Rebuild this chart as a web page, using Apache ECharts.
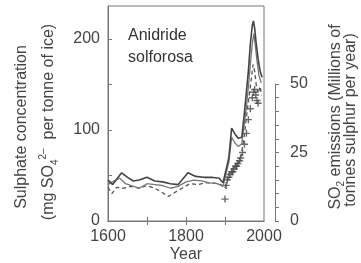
<!DOCTYPE html>
<html>
<head>
<meta charset="utf-8">
<script src="https://cdn.jsdelivr.net/npm/echarts@6/dist/echarts.min.js"></script>
<style>
  html, body { margin: 0; padding: 0; background: #fff; }
  #chart { width: 361px; height: 263px; }
</style>
</head>
<body>
<div id="chart"></div>
<script>
// sulphate in ice cores (3 records) + SO2 emissions (crosses)
const yearsA = [1600,1612,1635,1650,1665,1680,1700,1720,1740,1760,1780,1805,1825,1845,1865,1885,1895,1900,1910,1917,1925,1934,1943,1950,1956,1960,1965,1970,1973,1976,1980,1985,1990,1995];
const sulphateA = [45,40,53,48,44,45,48,44,43,41,40,53,49,48,48,47,42,44,70,102,96,91,92,120,147,165,195,215,220,212,195,178,165,158];

const yearsB = [1600,1615,1630,1645,1660,1680,1700,1720,1740,1760,1780,1800,1820,1840,1860,1880,1895,1900,1910,1917,1925,1934,1943,1950,1956,1960,1965,1970,1974,1978,1982,1987,1993];
const sulphateB = [40,44,47,41,39,36,41,40,39,36,38,43,45,44,42,41,38,40,65,92,86,82,85,108,130,148,172,195,206,192,176,160,152];

const yearsC = [1600,1610,1622,1640,1660,1680,1700,1720,1740,1755,1770,1790,1810,1830,1850,1870,1890,1900,1910,1920,1930,1940,1950,1957,1962,1968,1972,1976,1980,1985,1990,1994];
const sulphateC = [37,30,37,36,38,36,39,36,31,27,31,36,41,40,42,42,40,36,52,58,62,68,95,122,138,158,172,165,150,140,148,138];

const emissionYears = [1900,1903,1906,1910,1913,1917,1920,1923,1927,1930,1933,1937,1940,1945,1950,1955,1960,1965,1970,1973,1976,1979,1982,1985];
const emissions = [8,13,15,16,17,18,18,19,20,20,21,22,23,25,28,32,37,41,45,47,48,46,44,43];

// tick labels
const yearLabels = [1600, 1800, 2000];
const yearTicks = [1700, 1800, 1900];
const sulphateLabels = [0, 100, 200];
const sulphateTicks = [50, 100, 150, 200];
const emissionLabels = [0, 25, 50];

function pairs(xs, ys) {
  return xs.map(function (x, i) { return [x, ys[i]]; });
}

const textColor = '#444';
const axisColor = '#777';
const font = 'Liberation Sans, Arial, sans-serif';

const chart = echarts.init(document.getElementById('chart'));
const option = {
  animation: false,
  grid: [
    { left: 108, right: 97, top: 6, bottom: 42, show: true, borderColor: axisColor, borderWidth: 1 },
    { left: 275, width: 1, top: 84, height: 137 }
  ],
  xAxis: [
    {
      type: 'value', gridIndex: 0, min: 1600, max: 2000,
      axisLine: { lineStyle: { color: axisColor } },
      axisTick: { inside: true, length: 4, customValues: yearTicks, lineStyle: { color: axisColor } },
      axisLabel: {
        customValues: yearLabels, color: textColor, fontSize: 16, fontFamily: font, margin: 8,
        formatter: function (v) { return String(v); }
      },
      splitLine: { show: false }
    },
    {
      type: 'value', gridIndex: 0, position: 'top', min: 1600, max: 2000,
      axisLine: { lineStyle: { color: axisColor } },
      axisTick: { inside: true, length: 4, customValues: yearTicks, lineStyle: { color: axisColor } },
      axisLabel: { show: false },
      splitLine: { show: false }
    },
    { type: 'value', gridIndex: 1, min: 0, max: 1, show: false }
  ],
  yAxis: [
    {
      type: 'value', gridIndex: 0, min: 0, max: 236.3,
      axisLine: { show: true, lineStyle: { color: axisColor } },
      axisTick: { show: true, inside: true, length: 4, customValues: sulphateTicks, lineStyle: { color: axisColor } },
      axisLabel: { customValues: sulphateLabels, color: textColor, fontSize: 16, fontFamily: font, margin: 8 },
      splitLine: { show: false }
    },
    {
      type: 'value', gridIndex: 0, min: 0, max: 78.5, show: false
    },
    {
      type: 'value', gridIndex: 1, position: 'right', min: 0, max: 50, interval: 5,
      axisLine: { show: true, lineStyle: { color: axisColor } },
      axisTick: { show: true, length: 4, lineStyle: { color: axisColor } },
      axisLabel: { customValues: emissionLabels, color: textColor, fontSize: 16, fontFamily: font, margin: 14 },
      splitLine: { show: false }
    }
  ],
  series: [
    {
      type: 'line', xAxisIndex: 0, yAxisIndex: 0, data: pairs(yearsC, sulphateC),
      showSymbol: false, lineStyle: { color: '#555', width: 1.3, type: [4, 3] }
    },
    {
      type: 'line', xAxisIndex: 0, yAxisIndex: 0, data: pairs(yearsB, sulphateB),
      showSymbol: false, lineStyle: { color: '#777', width: 1.3 }
    },
    {
      type: 'line', xAxisIndex: 0, yAxisIndex: 0, data: pairs(yearsA, sulphateA),
      showSymbol: false, lineStyle: { color: '#444', width: 1.6 }
    },
    {
      type: 'scatter', xAxisIndex: 0, yAxisIndex: 1, data: pairs(emissionYears, emissions),
      symbol: 'path://M4,0h2v4h4v2h-4v4h-2v-4h-4v-2h4z', symbolSize: 7,
      itemStyle: { color: '#444' }
    }
  ],
  graphic: [
    {
      type: 'text', left: 128, top: 25,
      style: { text: 'Anidride\nsolforosa', fill: '#333', font: '16px ' + font, lineHeight: 22 }
    },
    {
      type: 'text', x: 186, y: 255,
      style: { text: 'Year', fill: textColor, font: '16px ' + font, align: 'center', verticalAlign: 'middle' }
    },
    {
      type: 'text', x: 22, y: 127, rotation: Math.PI / 2,
      style: { text: 'Sulphate concentration', fill: textColor, font: '16px ' + font, align: 'center', verticalAlign: 'middle' }
    },
    {
      type: 'text', x: 49, y: 122, rotation: Math.PI / 2,
      style: {
        text: '{n|(mg SO}{sub|4}{sup|2\u2013}{n|  per tonne of ice)}',
        align: 'center', verticalAlign: 'middle',
        rich: {
          n: { fill: textColor, fontSize: 16, fontFamily: font, verticalAlign: 'middle', lineHeight: 22 },
          sub: { fill: textColor, fontSize: 10, fontFamily: font, verticalAlign: 'bottom', lineHeight: 22 },
          sup: { fill: textColor, fontSize: 10, fontFamily: font, verticalAlign: 'top', lineHeight: 22 }
        }
      }
    },
    {
      type: 'text', x: 336, y: 117, rotation: Math.PI / 2,
      style: {
        text: '{n|SO}{sub|2}{n| emissions (Millions of}',
        align: 'center', verticalAlign: 'middle',
        rich: {
          n: { fill: textColor, fontSize: 16, fontFamily: font, verticalAlign: 'middle', lineHeight: 20 },
          sub: { fill: textColor, fontSize: 10, fontFamily: font, verticalAlign: 'bottom', lineHeight: 20 }
        }
      }
    },
    {
      type: 'text', x: 351, y: 120, rotation: Math.PI / 2,
      style: { text: 'tonnes sulphur per year)', fill: textColor, font: '16px ' + font, align: 'center', verticalAlign: 'middle' }
    }
  ]
};
chart.setOption(option);
</script>
</body>
</html>
